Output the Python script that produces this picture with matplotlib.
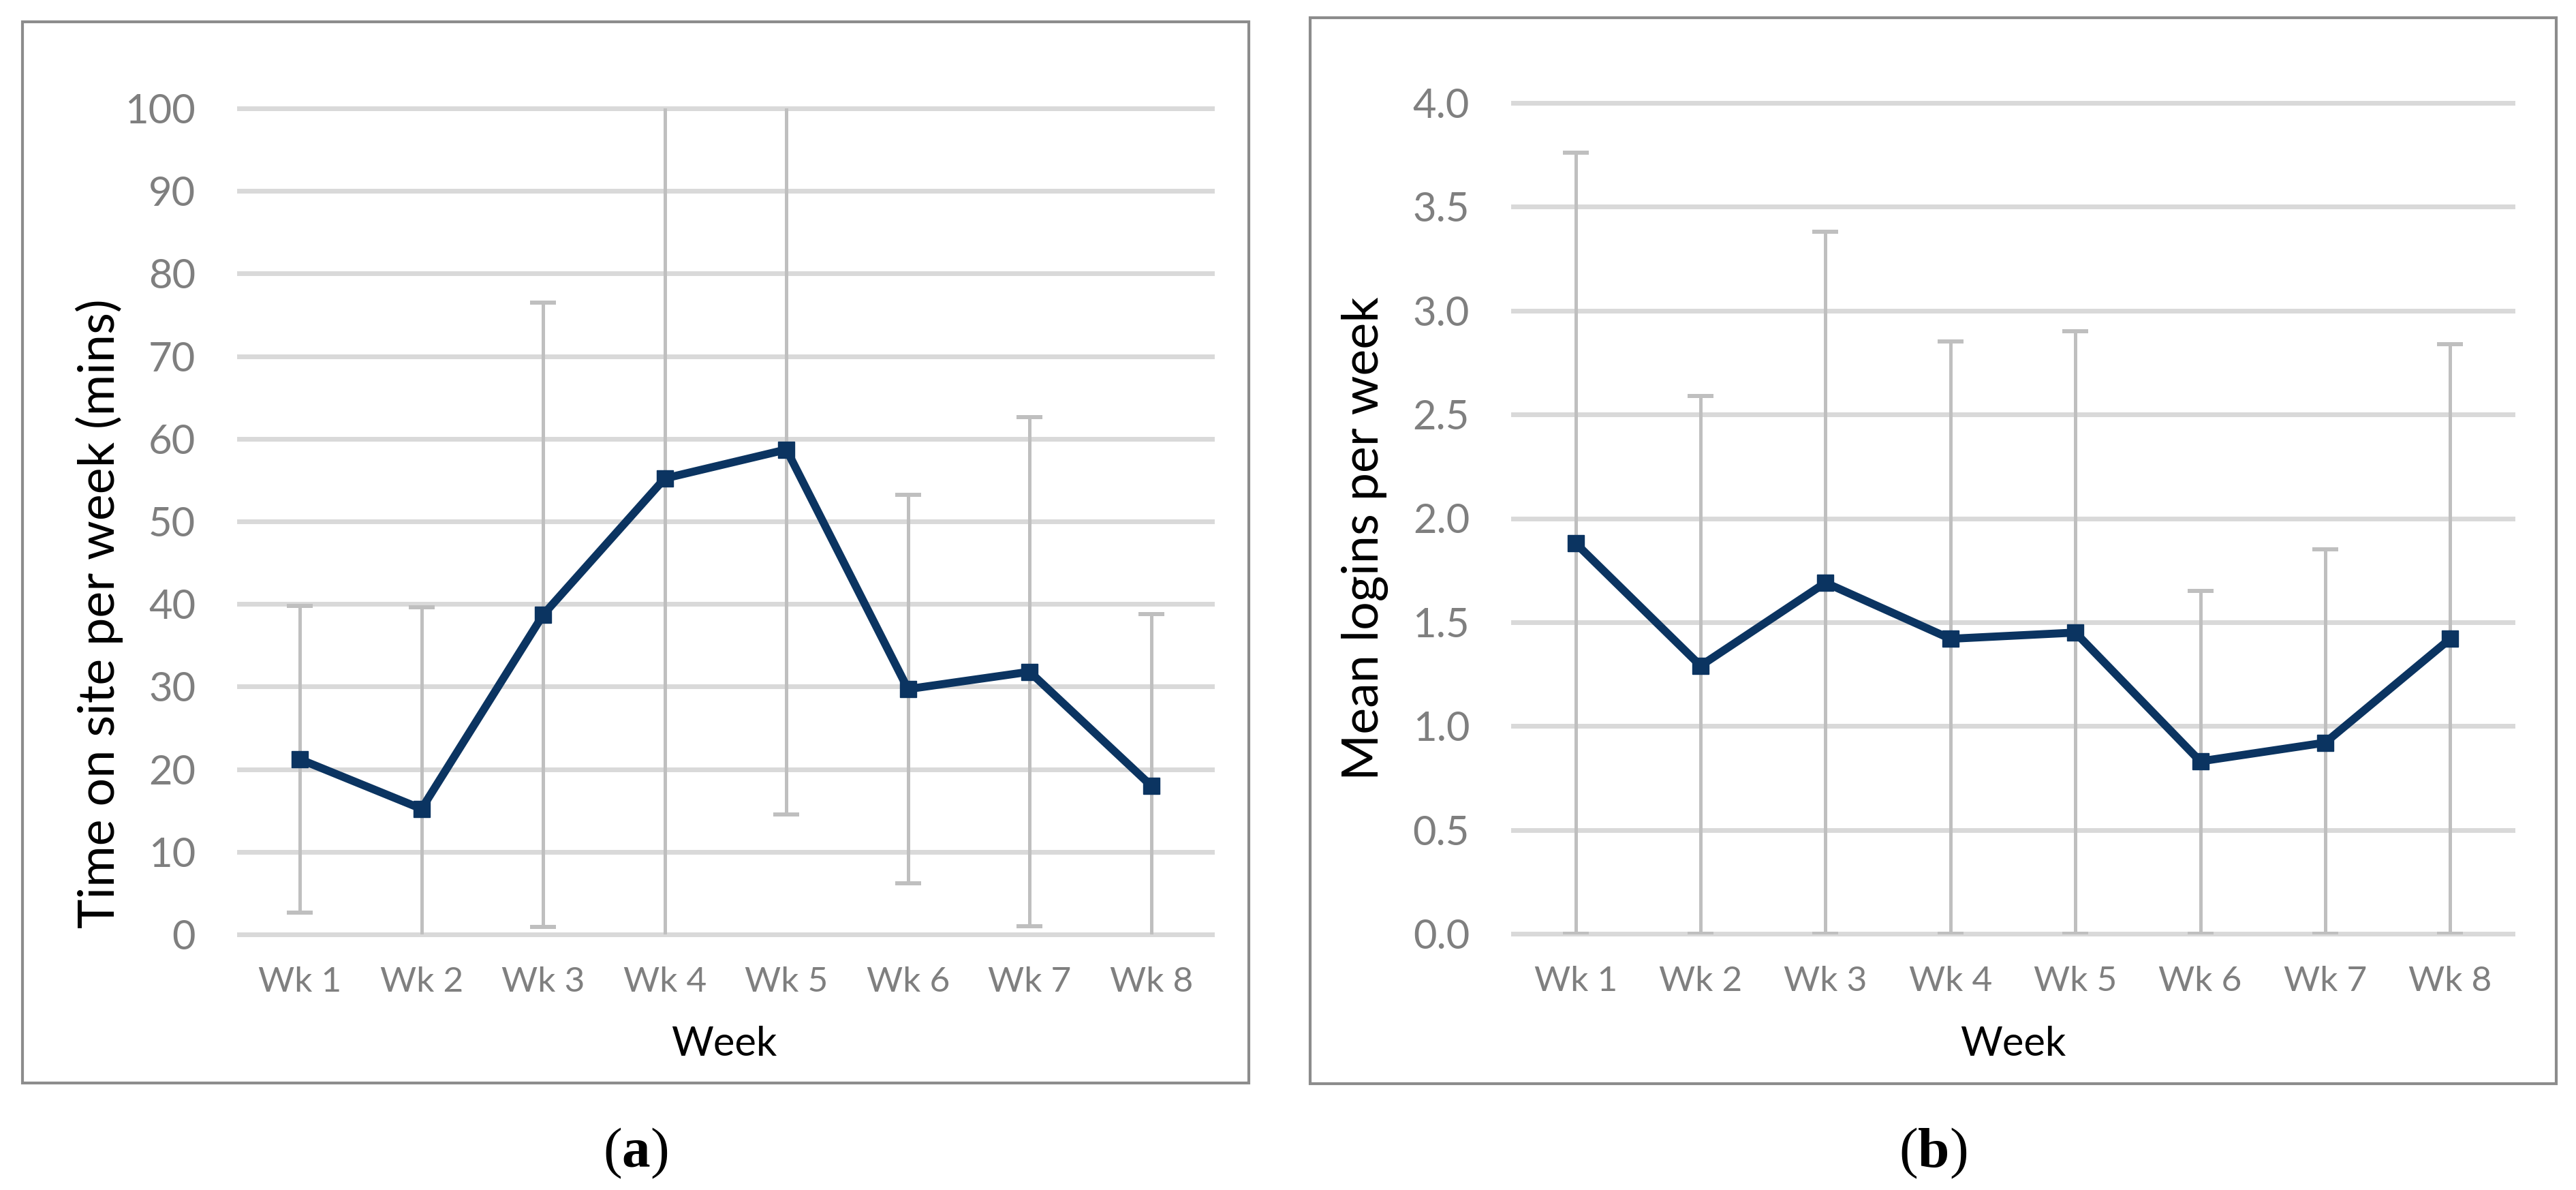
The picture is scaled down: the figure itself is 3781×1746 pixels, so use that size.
import matplotlib
matplotlib.use("Agg")
import matplotlib.pyplot as plt
import numpy as np

# data
weeks = ["Wk 1", "Wk 2", "Wk 3", "Wk 4", "Wk 5", "Wk 6", "Wk 7", "Wk 8"]

# (a) time on site per week (mins): mean and SD
time_mean = [21.2, 15.2, 38.7, 55.2, 58.7, 29.7, 31.8, 18.0]
time_sd = [18.6, 24.4, 37.8, 56.0, 44.2, 23.5, 30.8, 20.8]

# (b) mean logins per week: mean, upper end of bar, lower end of bar
login_mean = [1.88, 1.29, 1.69, 1.42, 1.45, 0.83, 0.92, 1.42]
login_upper = [3.76, 2.59, 3.38, 2.85, 2.90, 1.65, 1.85, 2.84]
login_lower = [0.0, 0.0, 0.0, 0.0, 0.0, 0.0, 0.0, 0.0]

plt.rcParams['font.family'] = ['Lato', 'DejaVu Sans']
plt.rcParams['mathtext.fontset'] = 'custom'
plt.rcParams['mathtext.rm'] = 'Liberation Serif'
plt.rcParams['mathtext.bf'] = 'Liberation Serif:bold'

W, H = 3781, 1746
fig = plt.figure(figsize=(W / 100, H / 100), dpi=100)

navy = '#0b3461'
grey_txt = '#7f7f7f'


def px_axes(l, r, t, b):
    return fig.add_axes([l / W, 1 - b / H, (r - l) / W, (b - t) / H])


def panel_box(l, r, t, b):
    rect = plt.Rectangle((l / W, 1 - b / H), (r - l) / W, (b - t) / H,
                         transform=fig.transFigure, fill=False,
                         edgecolor='#8c8c8c', linewidth=3.0)
    fig.add_artist(rect)


def style(ax, ymax, step, fmt):
    ax.set_xlim(0.5, 8.5)
    ax.set_ylim(0, ymax)
    ax.set_yticks(np.arange(0, ymax + step / 2, step))
    ax.set_yticklabels([fmt.format(v) for v in np.arange(0, ymax + step / 2, step)])
    ax.set_xticks(range(1, 9))
    ax.set_xticklabels(weeks)
    for s in ax.spines.values():
        s.set_visible(False)
    ax.tick_params(axis='y', length=0, pad=46, labelsize=43, labelcolor=grey_txt)
    ax.tick_params(axis='x', length=0, pad=34, labelsize=37, labelcolor=grey_txt)
    ax.yaxis.grid(True, color='#d9d9d9', linewidth=5)
    ax.set_axisbelow(True)
    for gl in ax.get_ygridlines():
        gl.set_clip_on(False)


x = np.arange(1, 9)

# panel (a)
panel_box(33, 1833, 32, 1589)
ax1 = px_axes(351, 1779, 159, 1371)
style(ax1, 100, 10, "{:.0f}")
ax1.errorbar(x, time_mean, yerr=time_sd, fmt='none', ecolor='#bfbfbf',
             elinewidth=3.6, capsize=13.5, capthick=4.3, zorder=2)
ax1.plot(x, time_mean, color=navy, linewidth=8.5, marker='s', markersize=17,
         zorder=3, clip_on=False)
fig.text(146 / W, 1 - 900 / H, "Time on site per week (mins)", rotation=90,
         ha='center', va='center', fontsize=53, color='black')
fig.text(1063 / W, 1 - 1532 / H, "Week", ha='center', va='center',
         fontsize=43, color='black')
fig.text(933 / W, 1 - 1692 / H, r"($\mathbf{a}$)", ha='center', va='center',
         fontsize=60, family='Liberation Serif', color='black')

# panel (b)
panel_box(1923, 3752, 26, 1590)
ax2 = px_axes(2221, 3688, 151, 1370)
style(ax2, 4.0, 0.5, "{:.1f}")
lo = np.array(login_mean) - np.array(login_lower)
hi = np.array(login_upper) - np.array(login_mean)
ax2.errorbar(x, login_mean, yerr=[lo, hi], fmt='none', ecolor='#bfbfbf',
             elinewidth=3.6, capsize=13.5, capthick=4.3, zorder=2)
ax2.plot(x, login_mean, color=navy, linewidth=8.5, marker='s', markersize=17,
         zorder=3, clip_on=False)
fig.text(2003 / W, 1 - 790 / H, "Mean logins per week", rotation=90,
         ha='center', va='center', fontsize=53, color='black')
fig.text(2955 / W, 1 - 1532 / H, "Week", ha='center', va='center',
         fontsize=43, color='black')
fig.text(2837 / W, 1 - 1692 / H, r"($\mathbf{b}$)", ha='center', va='center',
         fontsize=60, family='Liberation Serif', color='black')

fig.savefig("out.png", dpi=100)
